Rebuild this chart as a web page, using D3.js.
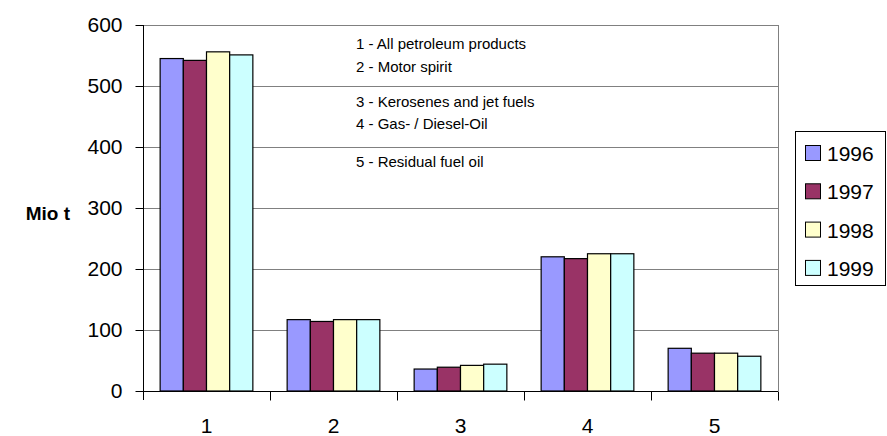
<!DOCTYPE html>
<html>
<head>
<meta charset="utf-8">
<script src="https://cdn.jsdelivr.net/npm/d3@7"></script>
<style>
  body { margin: 0; background: #fff; }
  svg { display: block; font-family: Arial, "Liberation Sans", sans-serif; }
</style>
</head>
<body>
<svg width="887" height="436"></svg>
<script>
var categories = ["1", "2", "3", "4", "5"];
var years = ["1996", "1997", "1998", "1999"];
var values1996 = [545, 117, 36, 220, 70];
var values1997 = [542, 114, 39, 217, 62];
var values1998 = [556, 117, 42, 225, 62];
var values1999 = [551, 117, 44, 225, 57];
var yTicks = [0, 100, 200, 300, 400, 500, 600];
var notes = ["1 - All petroleum products", "2 - Motor spirit",
             "3 - Kerosenes and jet fuels", "4 - Gas- / Diesel-Oil",
             "5 - Residual fuel oil"];
var colors = ["#9999ff", "#993366", "#ffffcc", "#ccffff"];

var series = [values1996, values1997, values1998, values1999];

var plotLeft = 143, plotRight = 778, plotTop = 25, plotBottom = 391;

var svg = d3.select("svg");

var x0 = d3.scaleBand()
           .domain(categories)
           .range([plotLeft, plotRight]);

var gap = x0.bandwidth() * 0.135;
var x1 = d3.scaleBand()
           .domain(years)
           .range([gap, x0.bandwidth() - gap]);

var y = d3.scaleLinear()
          .domain([0, 600])
          .range([plotBottom, plotTop]);

// gridlines
svg.append("g")
  .selectAll("line")
  .data(yTicks.slice(1))
  .enter()
    .append("line")
    .attr("x1", plotLeft)
    .attr("x2", plotRight)
    .attr("y1", d => Math.round(y(d)) + 0.5)
    .attr("y2", d => Math.round(y(d)) + 0.5)
    .attr("stroke", "#808080")
    .attr("stroke-width", 1);

// right border of plot area
svg.append("line")
    .attr("x1", plotRight + 0.5).attr("x2", plotRight + 0.5)
    .attr("y1", plotTop).attr("y2", plotBottom)
    .attr("stroke", "#808080");

// notes inside plot
svg.append("g")
  .selectAll("text")
  .data(notes)
  .enter()
    .append("text")
    .attr("x", 356)
    .attr("y", (d, i) => [49, 72, 107, 129, 167][i])
    .style("font-size", "15px")
    .text(d => d);

// bars
var groups = svg.append("g")
  .selectAll("g")
  .data(categories)
  .enter()
    .append("g")
    .attr("transform", d => "translate(" + x0(d) + ",0)");

groups.selectAll("rect")
  .data((d, i) => years.map((yr, j) => ({year: yr, value: series[j][i], color: colors[j]})))
  .enter()
    .append("rect")
    .attr("x", d => x1(d.year))
    .attr("y", d => y(d.value))
    .attr("width", x1.bandwidth())
    .attr("height", d => plotBottom - y(d.value))
    .attr("fill", d => d.color)
    .attr("stroke", "#000")
    .attr("stroke-width", 1.2);

// y axis
var yAxis = svg.append("g")
    .attr("transform", "translate(" + (plotLeft + 0.5) + ",0)")
    .call(d3.axisLeft(y)
            .tickValues(yTicks)
            .tickSize(8)
            .tickPadding(13));
yAxis.select(".domain")
    .attr("d", "M0," + plotTop + "V" + (plotBottom + 9))
    .attr("stroke", "#000");
yAxis.selectAll(".tick line").attr("stroke", "#000");
yAxis.selectAll("text")
    .style("font-size", "21px")
    .style("font-family", "Arial, 'Liberation Sans', sans-serif")
    .attr("fill", "#000");

// x axis
var xAxis = svg.append("g")
    .attr("transform", "translate(0," + (plotBottom + 0.5) + ")");
xAxis.append("line")
    .attr("x1", plotLeft).attr("x2", plotRight)
    .attr("y1", 0).attr("y2", 0)
    .attr("stroke", "#000");
xAxis.selectAll("line.tick")
  .data(categories)
  .enter()
    .append("line")
    .attr("class", "tick")
    .attr("x1", d => Math.round(x0(d) + x0.bandwidth()) + 0.5)
    .attr("x2", d => Math.round(x0(d) + x0.bandwidth()) + 0.5)
    .attr("y1", 0).attr("y2", 9)
    .attr("stroke", "#000");
xAxis.selectAll("text")
  .data(categories)
  .enter()
    .append("text")
    .attr("x", d => x0(d) + x0.bandwidth() / 2)
    .attr("y", 41)
    .style("text-anchor", "middle")
    .style("font-size", "21px")
    .text(d => d);

// y label
svg.append("text")
    .attr("x", 70)
    .attr("y", 220)
    .style("text-anchor", "end")
    .style("font-size", "19px")
    .style("font-weight", "bold")
    .text("Mio t");

// legend
var legend = svg.append("g");
legend.append("rect")
    .attr("x", 795.5).attr("y", 131.5)
    .attr("width", 90).attr("height", 154)
    .attr("fill", "#fff")
    .attr("stroke", "#000");

var items = legend.selectAll("g.item")
  .data(years)
  .enter()
    .append("g")
    .attr("class", "item")
    .attr("transform", (d, i) => "translate(0," + (153 + i * 38.3) + ")");
items.append("rect")
    .attr("x", 805.5).attr("y", -7.5)
    .attr("width", 15).attr("height", 15)
    .attr("fill", (d, i) => colors[i])
    .attr("stroke", "#000");
items.append("text")
    .attr("x", 827)
    .attr("y", 8)
    .style("font-size", "21px")
    .text(d => d);
</script>
</body>
</html>
